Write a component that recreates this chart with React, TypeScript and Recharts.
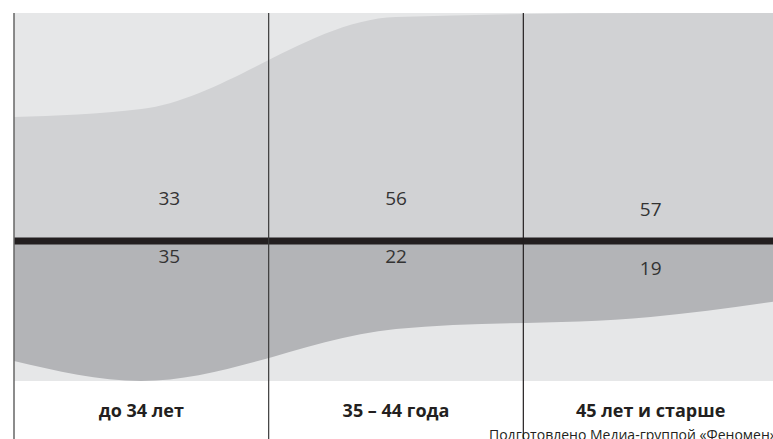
import React from 'react';
import {
  ComposedChart,
  Area,
  XAxis,
  YAxis,
  ReferenceArea,
  ReferenceLine,
  Scatter,
} from 'recharts';

// ---- data ----
const CATEGORIES = ['до 34 лет', '35 – 44 года', '45 лет и старше'];
const SHARE_ABOVE = [33, 56, 57];
const SHARE_BELOW = [35, 22, 19];
// where the two bands meet the left and right borders of the picture
const ABOVE_EDGES = [31, 57];
const BELOW_EDGES = [30, 15];
const CAPTION = 'Подготовлено Медиа-группой «Феномен»';

// ---- styles / layout ----
const FONT = '"Open Sans", "DejaVu Sans", sans-serif';
const BAND = '#e6e7e8';
const ABOVE_FILL = '#d1d2d4';
const BELOW_FILL = '#b3b4b7';
const INK = '#231f20';
const LABEL_DX = [28, 0, 0];
const ABOVE_DY = [-36, -36, -25];
const BELOW_DY = [22, 22, 34];
const CATEGORY_DY = 176;
const Y_MIN = -49.5;

const curveData = [
  { x: 0, above: ABOVE_EDGES[0], below: -BELOW_EDGES[0] },
  ...CATEGORIES.map((_, i) => ({ x: i + 0.5, above: SHARE_ABOVE[i], below: -SHARE_BELOW[i] })),
  { x: CATEGORIES.length, above: ABOVE_EDGES[1], below: -BELOW_EDGES[1] },
];

const labelData = CATEGORIES.map((name, i) => ({
  x: i + 0.5,
  zero: 0,
  i,
  name,
  above: SHARE_ABOVE[i],
  below: SHARE_BELOW[i],
}));

const yMax = Math.max(...SHARE_ABOVE);
const yBandMin = -Math.max(...SHARE_BELOW);

const renderLabels = (props: any) => {
  const { cx, cy, payload } = props;
  const i = payload.i;
  return (
    <g>
      <text
        x={cx + LABEL_DX[i]}
        y={cy + ABOVE_DY[i]}
        textAnchor="middle"
        fontFamily={FONT}
        fontSize={19}
        fill="#333333"
      >
        {payload.above}
      </text>
      <text
        x={cx + LABEL_DX[i]}
        y={cy + BELOW_DY[i]}
        textAnchor="middle"
        fontFamily={FONT}
        fontSize={19}
        fill="#333333"
      >
        {payload.below}
      </text>
      <text
        x={cx}
        y={cy + CATEGORY_DY}
        textAnchor="middle"
        fontFamily={FONT}
        fontSize={18}
        fontWeight="bold"
        fill={INK}
      >
        {payload.name}
      </text>
    </g>
  );
};

export default function App() {
  return (
    <div
      style={{
        position: 'absolute',
        left: 0,
        top: 0,
        width: 773,
        height: 439,
        overflow: 'hidden',
        background: '#ffffff',
      }}
    >
      <svg
        width={773}
        height={439}
        style={{ position: 'absolute', left: 0, top: 0 }}
      >
        <text x={489} y={440} fontFamily={FONT} fontSize={14} fill={INK}>
          {CAPTION}
        </text>
      </svg>
      <div style={{ position: 'absolute', left: 0, top: 0 }}>
        <ComposedChart
          width={778}
          height={439}
          data={curveData}
          margin={{ top: 13, right: 0, bottom: 0, left: 14 }}
        >
          <XAxis
            dataKey="x"
            type="number"
            domain={[0, CATEGORIES.length]}
            hide
          />
          <YAxis type="number" domain={[Y_MIN, yMax]} hide />
          <ReferenceArea
            x1={0}
            x2={CATEGORIES.length}
            y1={yBandMin}
            y2={yMax}
            fill={BAND}
            fillOpacity={1}
            stroke="none"
          />
          <Area
            type="monotone"
            dataKey="above"
            baseValue={0}
            fill={ABOVE_FILL}
            fillOpacity={1}
            stroke="none"
            isAnimationActive={false}
          />
          <Area
            type="monotone"
            dataKey="below"
            baseValue={0}
            fill={BELOW_FILL}
            fillOpacity={1}
            stroke="none"
            isAnimationActive={false}
          />
          <ReferenceLine y={0} stroke={INK} strokeWidth={7} />
          <ReferenceLine x={0} stroke="#666666" strokeWidth={1.5} />
          <ReferenceLine x={1} stroke="#3a3a3a" strokeWidth={1.2} />
          <ReferenceLine x={2} stroke={INK} strokeWidth={1.2} />
          <Scatter
            data={labelData}
            dataKey="zero"
            shape={renderLabels}
            isAnimationActive={false}
          />
        </ComposedChart>
      </div>
    </div>
  );
}
